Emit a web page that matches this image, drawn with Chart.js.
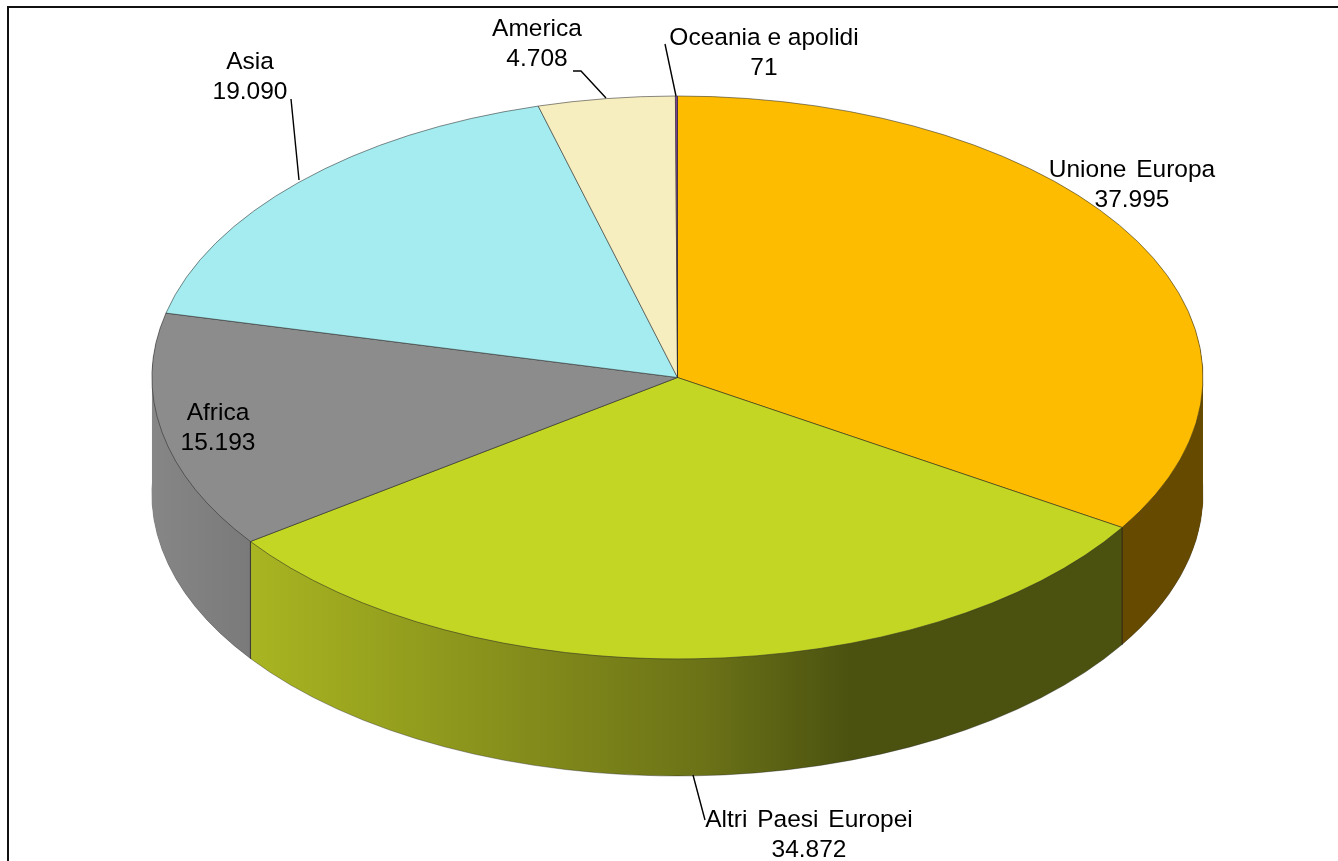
<!DOCTYPE html>
<html lang="it">
<head>
<meta charset="utf-8">
<title>Stranieri per area di provenienza</title>
<script src="https://cdn.jsdelivr.net/npm/chart.js@4"></script>
<style>
  html, body { margin: 0; padding: 0; background: #fff; }
  canvas { display: block; }
</style>
</head>
<body>
<canvas id="pie3d" width="1338" height="861"></canvas>
<script>
// ===== DATA =====
const areas = ['Unione Europa', 'Altri Paesi Europei', 'Africa', 'Asia', 'America', 'Oceania e apolidi'];
const residents = [37995, 34872, 15193, 19090, 4708, 71];

// ===== LOOK =====
const topColors = ['#fdbc00', '#c3d623', '#8c8c8c', '#a5ecf0', '#f7eec0', '#7b3f98'];
const labelPos = [[1132, 170], [809, 820], [218, 413], [250, 62], [537, 29], [764, 38]];
const labelWordGap = ['3px', '3px', '0px', '0px', '0px', '0px'];
const leaders = [null, [[693, 775], [705, 820]], null, [[299, 180], [291, 99]], [[606, 98], [581, 71], [573, 71]], [[676, 96], [665, 44]]];

const radius = 525.5;
const squash = 281.5 / 525.5;
const depth = 117;

// painted back to front so a wall never covers its neighbour
const wallOrder = [0, 2, 1];
const wallFill = {
  0: [[1122, '#664a00'], [1204, '#664a00']],
  1: [[250, '#a9b521'], [700, '#6c7317'], [850, '#4b5210'], [1122, '#4b5210']],
  2: [[152, '#868686'], [250, '#7a7a7a']]
};

const fmt = n => String(n).replace(/\B(?=(\d{3})+$)/g, '.');

function squashAround(ctx, x, y, dy) {
  ctx.translate(x, y + dy);
  ctx.scale(1, squash);
  ctx.translate(-x, -y);
}

// ===== 3D PIE: walls under the faces, faces flattened =====
const pie3d = {
  id: 'pie3d',
  beforeDraw(chart) {
    const { ctx } = chart;
    ctx.save();
    ctx.fillStyle = '#fff';
    ctx.fillRect(0, 0, chart.width, chart.height);
    // frame: the picture only keeps its top and left sides
    ctx.strokeStyle = '#111';
    ctx.lineWidth = 2;
    ctx.beginPath();
    ctx.moveTo(8, chart.height);
    ctx.lineTo(8, 7);
    ctx.lineTo(chart.width, 7);
    ctx.stroke();
    ctx.restore();
  },
  beforeDatasetsDraw(chart) {
    const { ctx } = chart;
    const arcs = chart.getDatasetMeta(0).data;
    const cx = arcs[0].x, cy = arcs[0].y;

    wallOrder.forEach(i => {
      const arc = arcs[i];
      const stops = wallFill[i];
      const grad = ctx.createLinearGradient(stops[0][0], 0, stops[stops.length - 1][0], 0);
      const span = stops[stops.length - 1][0] - stops[0][0];
      stops.forEach(s => grad.addColorStop((s[0] - stops[0][0]) / span, s[1]));
      const realOptions = arc.options;
      const wallOptions = Object.create(realOptions);
      wallOptions.backgroundColor = grad;
      wallOptions.borderColor = 'rgba(30,30,30,0.5)';
      for (let dy = depth; dy > 0; dy--) {
        wallOptions.borderWidth = dy === depth ? 1 : 0;
        arc.options = wallOptions;
        ctx.save();
        squashAround(ctx, cx, cy, dy);
        arc.draw(ctx);
        ctx.restore();
      }
      arc.options = realOptions;
    });

    // vertical seams where two walls meet
    ctx.save();
    ctx.strokeStyle = 'rgba(30,30,30,0.75)';
    ctx.lineWidth = 1;
    [arcs[0].endAngle, arcs[1].endAngle].forEach(a => {
      const x = cx + radius * Math.cos(a);
      const y = cy + radius * squash * Math.sin(a);
      ctx.beginPath();
      ctx.moveTo(x, y);
      ctx.lineTo(x, y + depth);
      ctx.stroke();
    });
    ctx.restore();

    ctx.save();
    squashAround(ctx, cx, cy, 0);
  },
  afterDatasetsDraw(chart) {
    const { ctx } = chart;
    ctx.restore();

    // leaders
    ctx.save();
    ctx.strokeStyle = '#000';
    ctx.lineWidth = 1.4;
    leaders.forEach(pts => {
      if (!pts) return;
      ctx.beginPath();
      pts.forEach((p, k) => k ? ctx.lineTo(p[0], p[1]) : ctx.moveTo(p[0], p[1]));
      ctx.stroke();
    });

    // labels: name and value on two lines
    ctx.fillStyle = '#000';
    ctx.font = '24.5px "Liberation Sans", Arial, sans-serif';
    ctx.textAlign = 'center';
    ctx.textBaseline = 'middle';
    areas.forEach((name, i) => {
      ctx.wordSpacing = labelWordGap[i];
      ctx.fillText(name, labelPos[i][0], labelPos[i][1]);
      ctx.wordSpacing = '0px';
      ctx.fillText(fmt(residents[i]), labelPos[i][0], labelPos[i][1] + 30);
    });
    ctx.restore();
  }
};

new Chart(document.getElementById('pie3d'), {
  type: 'pie',
  data: {
    labels: areas,
    datasets: [{
      data: residents,
      backgroundColor: topColors,
      borderColor: 'rgba(40,40,40,0.7)',
      borderWidth: 1,
      clip: false
    }]
  },
  options: {
    responsive: false,
    animation: false,
    radius: radius,
    layout: { padding: { left: 17, right: 0, top: 0, bottom: 106 } },
    plugins: { legend: { display: false }, tooltip: { enabled: false } }
  },
  plugins: [pie3d]
});
</script>
</body>
</html>
